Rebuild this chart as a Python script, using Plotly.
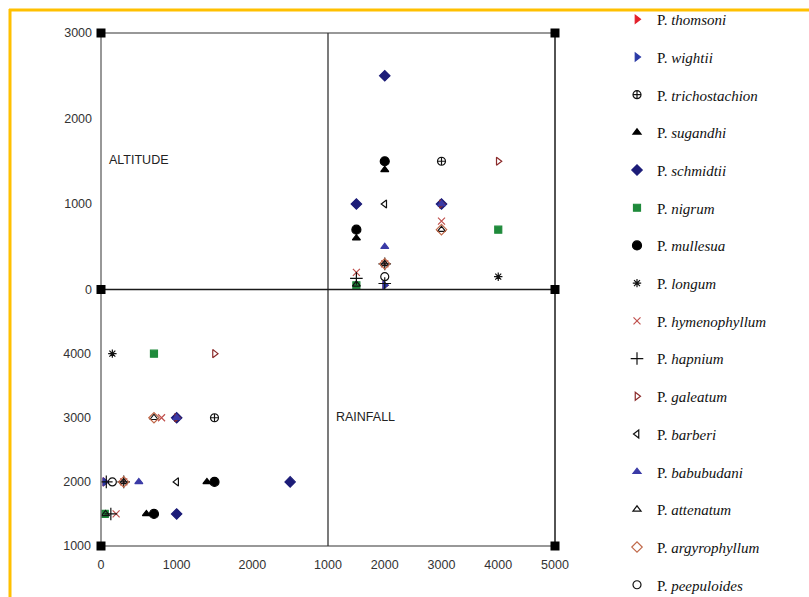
import plotly.graph_objects as go

# ---------------- data ----------------
species = ["thomsoni", "wightii", "trichostachion", "sugandhi", "schmidtii", "nigrum",
           "mullesua", "longum", "hymenophyllum", "hapnium", "galeatum", "barberi",
           "babubudani", "attenatum", "argyrophyllum", "peepuloides"]

obs_species = ["thomsoni",
               "wightii", "wightii",
               "trichostachion",
               "sugandhi", "sugandhi",
               "schmidtii", "schmidtii", "schmidtii",
               "nigrum", "nigrum",
               "mullesua", "mullesua",
               "longum",
               "hymenophyllum", "hymenophyllum", "hymenophyllum",
               "hapnium", "hapnium", "hapnium",
               "galeatum", "galeatum",
               "barberi",
               "babubudani", "babubudani",
               "attenatum", "attenatum", "attenatum",
               "argyrophyllum", "argyrophyllum",
               "peepuloides"]
obs_rainfall = [2000,
                2000, 3000,
                3000,
                2000, 1500,
                2000, 1500, 3000,
                4000, 1500,
                2000, 1500,
                4000,
                3000, 1500, 2000,
                1500, 2000, 2000,
                4000, 3000,
                2000,
                2000, 3000,
                3000, 2000, 1500,
                3000, 2000,
                2000]
obs_altitude = [50,
                50, 1000,
                1500,
                1400, 600,
                2500, 1000, 1000,
                700, 50,
                1500, 700,
                150,
                800, 200, 300,
                130, 300, 70,
                1500, 1000,
                1000,
                500, 1000,
                700, 300, 60,
                700, 300,
                150]

rain_ticks_top = [1000, 2000, 3000, 4000, 5000]
alt_ticks_top = [0, 1000, 2000, 3000]
alt_ticks_bottom = [0, 1000, 2000]
rain_ticks_bottom = [1000, 2000, 3000, 4000]

# ---------------- styles ----------------
style = {
    "thomsoni": dict(symbol="triangle-right", color="#e3202b", size=7),
    "wightii": dict(symbol="triangle-right", color="#2b3aa6", size=7),
    "trichostachion": dict(symbol="circle-cross-open", color="#111111", size=8),
    "sugandhi": dict(symbol="triangle-up", color="#000000", size=7),
    "schmidtii": dict(symbol="diamond", color="#1c1c78", size=8),
    "nigrum": dict(symbol="square", color="#1f8a3b", size=7),
    "mullesua": dict(symbol="circle", color="#000000", size=9),
    "longum": dict(symbol="asterisk-open", color="#111111", size=7),
    "hymenophyllum": dict(symbol="x-thin-open", color="#c0504d", size=7),
    "hapnium": dict(symbol="cross-thin-open", color="#111111", size=9),
    "galeatum": dict(symbol="triangle-right-open", color="#8b2b2b", size=7),
    "barberi": dict(symbol="triangle-left-open", color="#111111", size=7),
    "babubudani": dict(symbol="triangle-up", color="#3a3aa6", size=7),
    "attenatum": dict(symbol="triangle-up-open", color="#111111", size=7),
    "argyrophyllum": dict(symbol="diamond-open", color="#c0694a", size=8),
    "peepuloides": dict(symbol="circle-open", color="#111111", size=8),
}

fig = go.Figure()
for sp in species:
    xs_r = [r for s, r in zip(obs_species, obs_rainfall) if s == sp]
    ys_a = [a for s, a in zip(obs_species, obs_altitude) if s == sp]
    st = style[sp]
    mk = dict(symbol=st["symbol"], color=st["color"], size=st["size"],
              line=dict(color=st["color"], width=1.2))
    fig.add_trace(go.Scatter(x=xs_r, y=ys_a, mode="markers", marker=mk,
                             name="P. <i>%s</i>" % sp, legendgroup=sp,
                             xaxis="x2", yaxis="y2", showlegend=True))
    fig.add_trace(go.Scatter(x=ys_a, y=xs_r, mode="markers", marker=mk,
                             name="P. <i>%s</i>" % sp, legendgroup=sp,
                             xaxis="x", yaxis="y", showlegend=False))

L, R, T, B = 101, 555, 33, 546
W, H = 809, 597

def px(xp):
    return (xp - L) / (R - L)

def py(yp):
    return (B - yp) / (B - T)

tickfont = dict(family="Liberation Sans, Arial, sans-serif", size=12.5, color="#333333")
common = dict(showgrid=False, zeroline=False, showline=False, ticks="",
              tickfont=tickfont, ticklabelstandoff=9, fixedrange=True)

fig.update_layout(
    width=W, height=H,
    margin=dict(l=L, r=W - R, t=T, b=H - B, autoexpand=False),
    paper_bgcolor="white", plot_bgcolor="white",
    xaxis=dict(domain=[0, 0.5], range=[0, 3000], tickvals=alt_ticks_bottom,
               anchor="y", **common),
    yaxis=dict(domain=[0, 0.5], range=[1000, 5000], tickvals=rain_ticks_bottom,
               anchor="x", **common),
    xaxis2=dict(domain=[0.5, 1], range=[1000, 5000], tickvals=rain_ticks_top,
                anchor="free", position=0, **common),
    yaxis2=dict(domain=[0.5, 1], range=[0, 3000], tickvals=alt_ticks_top,
                anchor="free", position=0, **common),
    legend=dict(x=px(617), y=py(3), xanchor="left", yanchor="top",
                font=dict(family="Liberation Serif, Times New Roman, serif", size=15, color="#111111"),
                tracegroupgap=15.2, bgcolor="rgba(0,0,0,0)", borderwidth=0,
                maxheight=700),
    showlegend=True,
)

shapes = []
gray = "#767676"
dark = "#1a1a1a"
shapes.append(dict(type="line", xref="paper", yref="paper", x0=0, x1=1, y0=1, y1=1, line=dict(color=gray, width=1.5)))
shapes.append(dict(type="line", xref="paper", yref="paper", x0=0, x1=1, y0=0, y1=0, line=dict(color=gray, width=1.5)))
shapes.append(dict(type="line", xref="paper", yref="paper", x0=0, x1=0, y0=0, y1=1, line=dict(color=gray, width=1.5)))
shapes.append(dict(type="line", xref="paper", yref="paper", x0=1, x1=1, y0=0, y1=1, line=dict(color=dark, width=1.5)))
shapes.append(dict(type="line", xref="paper", yref="paper", x0=0.5, x1=0.5, y0=0, y1=1, line=dict(color="#333333", width=1.3)))
shapes.append(dict(type="line", xref="paper", yref="paper", x0=0, x1=1, y0=0.5, y1=0.5, line=dict(color=dark, width=1.3)))
for cx, cy in [(0, 1), (0, 0.5), (0, 0), (1, 1), (1, 0.5), (1, 0)]:
    shapes.append(dict(type="rect", xref="paper", yref="paper",
                       xsizemode="pixel", ysizemode="pixel", xanchor=cx, yanchor=cy,
                       x0=-4.5, x1=4.5, y0=-4.5, y1=4.5,
                       fillcolor="#000000", line=dict(width=0)))
shapes.append(dict(type="line", xref="paper", yref="paper", x0=px(9), x1=px(815), y0=py(10), y1=py(10),
                   line=dict(color="#FFC000", width=3)))
shapes.append(dict(type="line", xref="paper", yref="paper", x0=px(10), x1=px(10), y0=py(9), y1=py(600),
                   line=dict(color="#FFC000", width=3)))
fig.update_layout(shapes=shapes)

labfont = dict(family="Liberation Sans, Arial, sans-serif", size=12.5, color="#222222")
fig.add_annotation(text="ALTITUDE", xref="paper", yref="paper", x=px(107), y=py(160),
                   xanchor="left", yanchor="middle", showarrow=False, font=labfont)
fig.add_annotation(text="RAINFALL", xref="paper", yref="paper", x=px(334), y=py(417),
                   xanchor="left", yanchor="middle", showarrow=False, font=labfont)

fig.write_html("out.html", config={"displayModeBar": False},
               post_script="document.body.style.margin='0';document.body.style.overflow='hidden';")
